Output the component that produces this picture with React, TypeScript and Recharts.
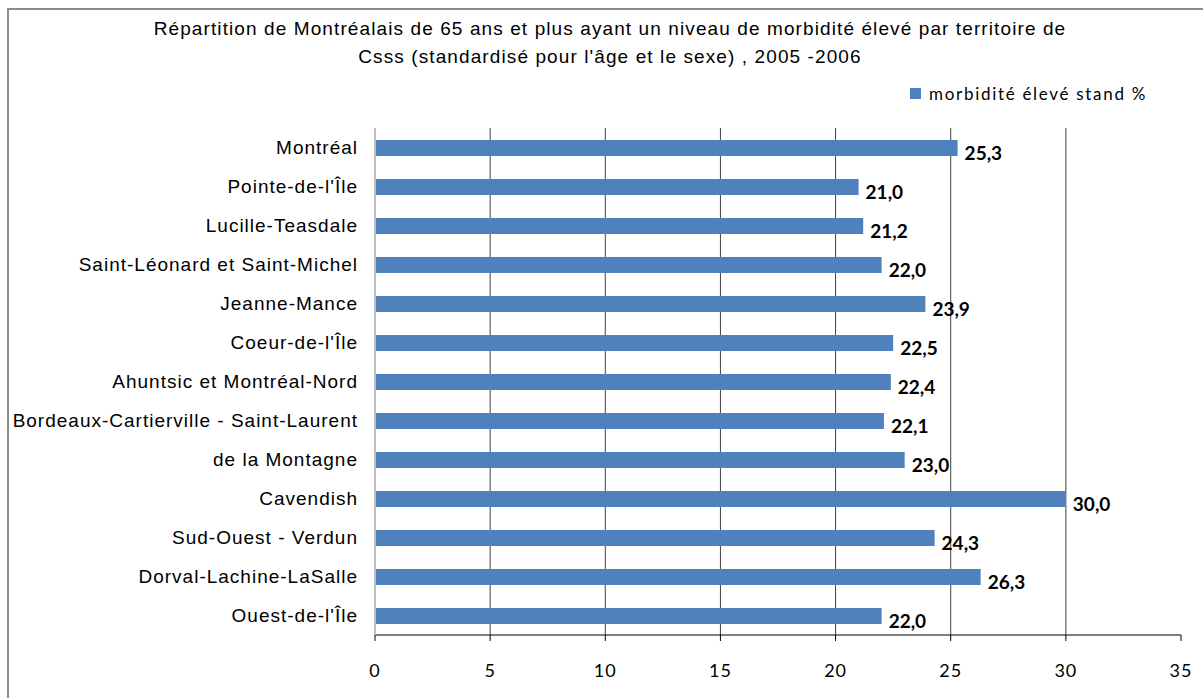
import { BarChart, Bar, XAxis, YAxis, CartesianGrid, LabelList } from 'recharts'

// Répartition morbidité élevée 65+ par CSSS, 2005-2006

const territories = [
  "Montréal",
  "Pointe-de-l'Île",
  "Lucille-Teasdale",
  "Saint-Léonard et Saint-Michel",
  "Jeanne-Mance",
  "Coeur-de-l'Île",
  "Ahuntsic et Montréal-Nord",
  "Bordeaux-Cartierville - Saint-Laurent",
  "de la Montagne",
  "Cavendish",
  "Sud-Ouest - Verdun",
  "Dorval-Lachine-LaSalle",
  "Ouest-de-l'Île",
]

const morbidite = [25.3, 21.0, 21.2, 22.0, 23.9, 22.5, 22.4, 22.1, 23.0, 30.0, 24.3, 26.3, 22.0]

const xTicks = [0, 5, 10, 15, 20, 25, 30, 35]

const seriesName = "morbidité élevé stand %"
const titleLines = [
  "Répartition de Montréalais de 65 ans et plus ayant un niveau de morbidité élevé par territoire de",
  "Csss (standardisé pour l'âge et le sexe) , 2005 -2006",
]

const data = territories.map((name, i) => ({ name, value: morbidite[i] }))

const BLUE = "#4f81bd"
const CAL = "Lato, 'Open Sans', sans-serif"
const ARIAL = "'Liberation Sans', Arial, sans-serif"

function ValueLabel(props: any) {
  const { x, y, width, height, value } = props
  return (
    <text
      x={x + width + 7}
      y={y + height / 2 + 4}
      dominantBaseline="central"
      fontFamily={CAL}
      fontWeight="bold"
      fontSize={19}
      fill="#000"
    >
      {Number(value).toFixed(1).replace('.', ',')}
    </text>
  )
}

// gridline at every tick except the 0 (axis) and the last one
function GridLine(props: any) {
  const { x1, y1, x2, y2, index } = props
  if (index === 0 || index === xTicks.length - 1) return null
  return <line x1={x1} y1={y1} x2={x2} y2={y2} stroke="#404040" strokeWidth={1} />
}

export default function App() {
  return (
    <div style={{ position: "absolute", left: 0, top: 0, width: 1203, height: 698, background: "#fff", overflow: "hidden" }}>
      <div style={{ position: "absolute", left: 7, top: 8, width: 1210, height: 710, borderLeft: "2px solid #8c8c8c", borderTop: "2px solid #8c8c8c" }} />
      <svg width={1203} height={80} style={{ position: "absolute", left: 0, top: 0 }}>
        {titleLines.map((t, i) => (
          <text key={i} x={610} y={28 + i * 28} textAnchor="middle" dominantBaseline="central" fontFamily={ARIAL} fontSize={19} letterSpacing={1.1} fill="#000">
            {t}
          </text>
        ))}
      </svg>
      <div style={{ position: "absolute", left: 910, top: 83, display: "flex", alignItems: "center", fontFamily: CAL, fontSize: 17, letterSpacing: 1.7, color: "#000", whiteSpace: "nowrap" }}>
        <span style={{ display: "inline-block", width: 11, height: 11, background: BLUE, marginRight: 8 }} />
        {seriesName}
      </div>
      <div style={{ position: "absolute", left: 0, top: 0 }}>
        <BarChart
          width={1203}
          height={698}
          data={data}
          layout="vertical"
          margin={{ top: 128, right: 22, left: 0, bottom: 0 }}
          barSize={16}
        >
          <CartesianGrid horizontal={false} vertical={GridLine} />
          <XAxis
            type="number"
            domain={[0, 35]}
            ticks={xTicks}
            interval={0}
            height={63}
            stroke="#000"
            tickSize={6}
            tickMargin={23}
            tick={{ fill: "#000", fontSize: 18, letterSpacing: 1, fontFamily: CAL }}
          />
          <YAxis
            type="category"
            dataKey="name"
            width={375}
            interval={0}
            tickLine={false}
            tickSize={0}
            tickMargin={17}
            axisLine={{ stroke: "#bfbfbf", strokeWidth: 2 }}
            tick={{ fill: "#000", fontSize: 19, letterSpacing: 1, fontFamily: ARIAL }}
          />
          <Bar dataKey="value" name={seriesName} fill={BLUE} isAnimationActive={false}>
            <LabelList dataKey="value" content={ValueLabel} />
          </Bar>
        </BarChart>
      </div>
    </div>
  )
}
